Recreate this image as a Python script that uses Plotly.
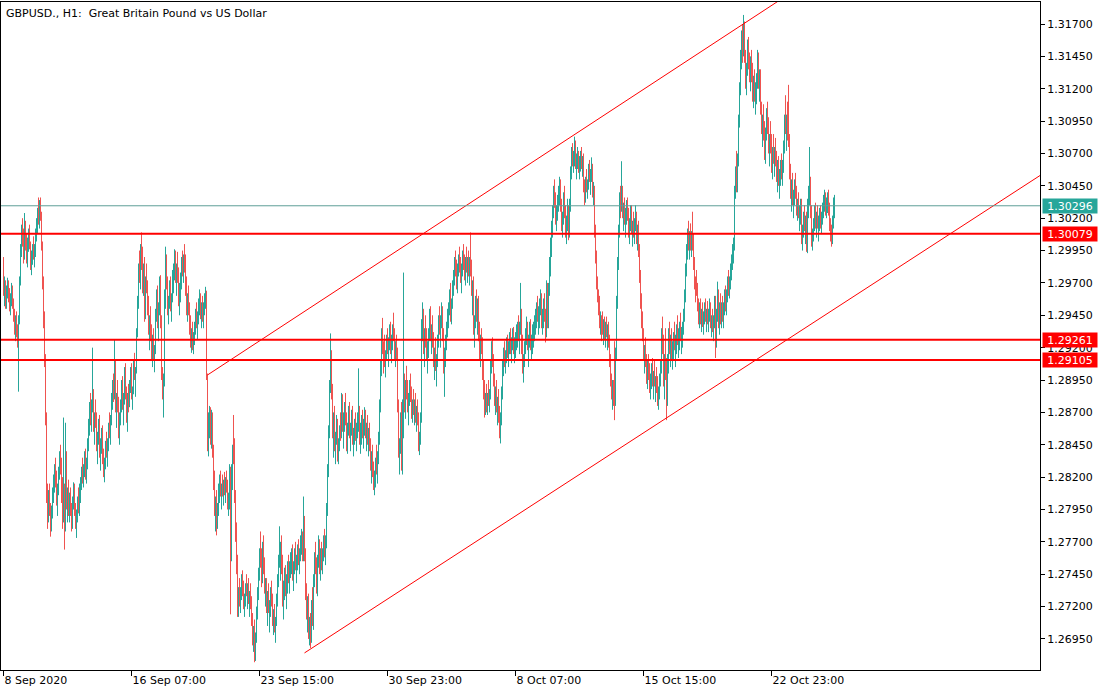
import plotly.graph_objects as go

TITLE = "GBPUSD., H1:  Great Britain Pound vs US Dollar"

# Hourly bars (bar index 0 = 8 Sep 2020 23:00). Open of each bar = previous close.
FIRST_OPEN = 1.2985
HIGH = [
1.2990,1.2975,1.2972,1.2968,1.2974,1.2972,1.2966,1.2962,1.2970,1.2968,
1.2958,1.2950,1.2945,1.2948,1.2938,1.2945,1.2975,1.3000,1.3015,1.3020,
1.3012,1.3024,1.3018,1.3008,1.3005,1.3012,1.3015,1.3002,1.2995,1.3000,
1.3006,1.3000,1.3012,1.3020,1.3028,1.3036,1.3034,1.3036,1.3025,1.3002,
1.2975,1.2948,1.2915,1.2870,1.2815,1.2810,1.2815,1.2800,1.2798,1.2812,
1.2822,1.2830,1.2835,1.2825,1.2815,1.2828,1.2840,1.2845,1.2835,1.2820,
1.2866,1.2815,1.2862,1.2840,1.2812,1.2818,1.2808,1.2812,1.2800,1.2805,
1.2816,1.2815,1.2800,1.2795,1.2805,1.2812,1.2815,1.2820,1.2828,1.2835,
1.2830,1.2840,1.2842,1.2835,1.2850,1.2865,1.2878,1.2885,1.2880,1.2920,
1.2888,1.2870,1.2880,1.2870,1.2855,1.2865,1.2868,1.2850,1.2858,1.2860,
1.2842,1.2835,1.2848,1.2855,1.2850,1.2862,1.2870,1.2868,1.2885,1.2895,
1.2900,1.2926,1.2910,1.2885,1.2895,1.2882,1.2870,1.2880,1.2895,1.2898,
1.2885,1.2905,1.2908,1.2890,1.2885,1.2892,1.2895,1.2905,1.2908,1.2890,
1.2910,1.2916,1.2905,1.2935,1.2960,1.2985,1.2995,1.3000,1.3009,1.2998,
1.2985,1.2990,1.2975,1.2985,1.2972,1.2960,1.2945,1.2952,1.2938,1.2930,
1.2935,1.2922,1.2950,1.2965,1.2968,1.2955,1.2975,1.2976,1.2945,1.2905,
1.2900,1.2965,1.2998,1.2992,1.2975,1.2960,1.2972,1.2975,1.2962,1.2980,
1.2985,1.2996,1.2995,1.2985,1.2994,1.2982,1.2970,1.2978,1.2990,1.2995,
1.2992,1.3000,1.2992,1.2975,1.2962,1.2968,1.2955,1.2945,1.2935,1.2940,
1.2932,1.2940,1.2950,1.2955,1.2948,1.2958,1.2965,1.2962,1.2955,1.2960,
1.2955,1.2962,1.2967,1.2964,1.2900,1.2870,1.2875,1.2874,1.2872,1.2870,
1.2845,1.2825,1.2805,1.2810,1.2800,1.2815,1.2822,1.2825,1.2815,1.2822,
1.2818,1.2824,1.2820,1.2825,1.2818,1.2808,1.2830,1.2828,1.2830,1.2845,
1.2868,1.2850,1.2810,1.2785,1.2760,1.2735,1.2742,1.2735,1.2745,1.2748,
1.2740,1.2730,1.2738,1.2745,1.2738,1.2742,1.2732,1.2738,1.2728,1.2715,
1.2705,1.2710,1.2700,1.2720,1.2735,1.2750,1.2765,1.2778,1.2765,1.2770,
1.2775,1.2758,1.2742,1.2742,1.2732,1.2738,1.2725,1.2735,1.2740,1.2730,
1.2718,1.2722,1.2712,1.2730,1.2745,1.2760,1.2782,1.2770,1.2775,1.2760,
1.2740,1.2750,1.2752,1.2745,1.2755,1.2760,1.2755,1.2762,1.2765,1.2768,
1.2755,1.2765,1.2770,1.2760,1.2768,1.2772,1.2765,1.2775,1.2780,1.2778,
1.2805,1.2790,1.2765,1.2738,1.2728,1.2730,1.2712,1.2715,1.2725,1.2735,
1.2745,1.2762,1.2770,1.2758,1.2760,1.2775,1.2772,1.2765,1.2770,1.2765,
1.2775,1.2780,1.2775,1.2800,1.2830,1.2860,1.2895,1.2931,1.2918,1.2892,
1.2870,1.2875,1.2855,1.2868,1.2865,1.2850,1.2860,1.2870,1.2885,1.2884,
1.2870,1.2878,1.2885,1.2870,1.2862,1.2875,1.2878,1.2862,1.2872,1.2875,
1.2858,1.2865,1.2870,1.2862,1.2870,1.2904,1.2875,1.2862,1.2868,1.2872,
1.2865,1.2874,1.2872,1.2862,1.2868,1.2858,1.2862,1.2850,1.2840,1.2845,
1.2832,1.2825,1.2835,1.2845,1.2840,1.2855,1.2880,1.2910,1.2935,1.2943,
1.2925,1.2930,1.2918,1.2930,1.2935,1.2928,1.2938,1.2940,1.2930,1.2938,
1.2947,1.2935,1.2925,1.2930,1.2920,1.2880,1.2850,1.2870,1.2878,1.2880,
1.2978,1.2900,1.2895,1.2906,1.2895,1.2885,1.2895,1.2900,1.2890,1.2880,
1.2888,1.2880,1.2885,1.2875,1.2880,1.2870,1.2855,1.2870,1.2942,1.2955,
1.2950,1.2935,1.2945,1.2935,1.2925,1.2935,1.2950,1.2952,1.2938,1.2945,
1.2932,1.2920,1.2928,1.2915,1.2930,1.2945,1.2952,1.2945,1.2955,1.2952,
1.2935,1.2920,1.2930,1.2940,1.2950,1.2955,1.2965,1.2970,1.2958,1.2972,
1.2980,1.2990,1.2995,1.2988,1.2985,1.2992,1.2998,1.2990,1.2985,1.2995,
1.3000,1.2992,1.2990,1.2998,1.2990,1.2995,1.2990,1.3009,1.2988,1.2972,
1.2975,1.2945,1.2960,1.2965,1.2958,1.2960,1.2940,1.2930,1.2935,1.2928,
1.2910,1.2895,1.2885,1.2892,1.2885,1.2895,1.2888,1.2910,1.2925,1.2928,
1.2915,1.2900,1.2890,1.2895,1.2882,1.2888,1.2875,1.2870,1.2890,1.2910,
1.2920,1.2925,1.2918,1.2928,1.2930,1.2925,1.2932,1.2935,1.2928,1.2935,
1.2936,1.2928,1.2932,1.2938,1.2940,1.2945,1.2940,1.2970,1.2950,1.2930,
1.2915,1.2925,1.2935,1.2944,1.2940,1.2930,1.2940,1.2942,1.2930,1.2938,
1.2940,1.2945,1.2950,1.2955,1.2960,1.2952,1.2958,1.2965,1.2962,1.2950,
1.2958,1.2962,1.2950,1.2972,1.2970,1.2970,1.2990,1.3005,1.3018,1.3030,
1.3045,1.3050,1.3040,1.3030,1.3038,1.3045,1.3052,1.3050,1.3035,1.3025,
1.3040,1.3045,1.3030,1.3022,1.3035,1.3030,1.3035,1.3060,1.3075,1.3078,
1.3072,1.3083,1.3080,1.3070,1.3075,1.3072,1.3068,1.3072,1.3075,1.3068,
1.3070,1.3050,1.3052,1.3058,1.3050,1.3062,1.3065,1.3058,1.3067,1.3062,
1.3048,1.3045,1.3015,1.2995,1.2975,1.2965,1.2960,1.2948,1.2945,1.2948,
1.2942,1.2944,1.2940,1.2944,1.2938,1.2940,1.2930,1.2915,1.2900,1.2895,
1.2895,1.2925,1.2920,1.2960,1.2990,1.3015,1.3040,1.3045,1.3064,1.3045,
1.3032,1.3036,1.3028,1.3034,1.3036,1.3028,1.3020,1.3030,1.3030,1.3018,
1.3025,1.3020,1.3030,1.3025,1.3015,1.3018,1.3000,1.2980,1.2962,1.2948,
1.2935,1.2922,1.2928,1.2915,1.2910,1.2915,1.2908,1.2900,1.2908,1.2912,
1.2902,1.2910,1.2898,1.2905,1.2898,1.2890,1.2900,1.2910,1.2935,1.2944,
1.2930,1.2915,1.2935,1.2912,1.2915,1.2935,1.2940,1.2930,1.2935,1.2925,
1.2932,1.2940,1.2930,1.2938,1.2945,1.2935,1.2940,1.2947,1.2936,1.2940,
1.2950,1.2965,1.2985,1.3000,1.3012,1.3018,1.3010,1.3016,1.3010,1.3025,
1.3008,1.2990,1.2975,1.2980,1.2970,1.2958,1.2955,1.2958,1.2950,1.2955,
1.2948,1.2955,1.2958,1.2950,1.2956,1.2950,1.2958,1.2955,1.2945,1.2950,
1.2945,1.2960,1.2960,1.2950,1.2971,1.2965,1.2955,1.2962,1.2955,1.2960,
1.2955,1.2965,1.2968,1.2965,1.2975,1.2980,1.2975,1.2985,1.2992,1.3000,
1.3005,1.3045,1.3060,1.3072,1.3070,1.3100,1.3125,1.3150,1.3165,1.3170,
1.3177,1.3172,1.3150,1.3140,1.3158,1.3160,1.3148,1.3145,1.3150,1.3140,
1.3130,1.3135,1.3125,1.3132,1.3150,1.3148,1.3135,1.3135,1.3110,1.3100,
1.3108,1.3095,1.3090,1.3105,1.3110,1.3098,1.3085,1.3095,1.3085,1.3075,
1.3085,1.3075,1.3082,1.3072,1.3065,1.3068,1.3058,1.3065,1.3070,1.3065,
1.3080,1.3100,1.3115,1.3100,1.3110,1.3123,1.3085,1.3062,1.3050,1.3055,
1.3042,1.3050,1.3055,1.3045,1.3035,1.3040,1.3030,1.3035,1.3035,1.3015,
1.3025,1.3030,1.3022,1.3025,1.3035,1.3045,1.3075,1.3052,1.3030,1.3012,
1.3020,1.3030,1.3032,1.3025,1.3030,1.3022,1.3028,1.3030,1.3025,1.3032,
1.3038,1.3042,1.3040,1.3036,1.3040,1.3042,1.3032,1.3020,1.3015,1.3022,
1.3036,1.3038,
]
LOW = [
1.2960,1.2952,1.2950,1.2950,1.2958,1.2955,1.2948,1.2945,1.2952,1.2950,
1.2940,1.2930,1.2925,1.2928,1.2920,1.2886,1.2938,1.2968,1.2990,1.2998,
1.2985,1.2988,1.2995,1.2985,1.2982,1.2994,1.2996,1.2980,1.2976,1.2984,
1.2988,1.2982,1.2990,1.3002,1.3008,1.3015,1.3012,1.3018,1.2995,1.2965,
1.2935,1.2905,1.2860,1.2800,1.2780,1.2785,1.2790,1.2774,1.2778,1.2788,
1.2800,1.2808,1.2812,1.2798,1.2790,1.2806,1.2818,1.2822,1.2800,1.2780,
1.2785,1.2764,1.2778,1.2795,1.2785,1.2790,1.2785,1.2790,1.2778,1.2780,
1.2795,1.2790,1.2780,1.2773,1.2785,1.2792,1.2790,1.2800,1.2810,1.2815,
1.2812,1.2820,1.2818,1.2815,1.2826,1.2840,1.2852,1.2860,1.2855,1.2870,
1.2855,1.2845,1.2858,1.2840,1.2830,1.2845,1.2835,1.2825,1.2838,1.2830,
1.2820,1.2816,1.2826,1.2835,1.2828,1.2840,1.2850,1.2845,1.2860,1.2872,
1.2878,1.2880,1.2870,1.2858,1.2870,1.2850,1.2845,1.2860,1.2870,1.2872,
1.2860,1.2876,1.2880,1.2862,1.2855,1.2870,1.2875,1.2885,1.2880,1.2872,
1.2884,1.2895,1.2882,1.2900,1.2928,1.2950,1.2970,1.2965,1.2980,1.2962,
1.2960,1.2940,1.2942,1.2962,1.2945,1.2930,1.2918,1.2925,1.2910,1.2905,
1.2910,1.2901,1.2915,1.2940,1.2935,1.2925,1.2945,1.2935,1.2895,1.2880,
1.2866,1.2890,1.2950,1.2965,1.2945,1.2938,1.2950,1.2948,1.2940,1.2955,
1.2962,1.2972,1.2970,1.2960,1.2970,1.2952,1.2945,1.2955,1.2965,1.2975,
1.2970,1.2978,1.2960,1.2945,1.2940,1.2945,1.2930,1.2920,1.2916,1.2918,
1.2915,1.2922,1.2930,1.2935,1.2926,1.2938,1.2945,1.2942,1.2935,1.2940,
1.2935,1.2945,1.2950,1.2895,1.2840,1.2836,1.2850,1.2845,1.2842,1.2835,
1.2810,1.2790,1.2778,1.2775,1.2780,1.2790,1.2800,1.2805,1.2795,1.2805,
1.2798,1.2806,1.2800,1.2808,1.2795,1.2790,1.2795,1.2714,1.2755,1.2810,
1.2830,1.2800,1.2770,1.2745,1.2712,1.2712,1.2720,1.2715,1.2725,1.2728,
1.2718,1.2712,1.2720,1.2728,1.2718,1.2722,1.2712,1.2718,1.2705,1.2690,
1.2685,1.2677,1.2678,1.2692,1.2710,1.2725,1.2740,1.2750,1.2735,1.2738,
1.2745,1.2730,1.2720,1.2715,1.2705,1.2715,1.2700,1.2712,1.2720,1.2705,
1.2698,1.2700,1.2692,1.2705,1.2720,1.2735,1.2750,1.2740,1.2745,1.2720,
1.2710,1.2725,1.2728,1.2718,1.2730,1.2738,1.2730,1.2742,1.2745,1.2740,
1.2732,1.2745,1.2748,1.2738,1.2748,1.2752,1.2745,1.2755,1.2760,1.2755,
1.2755,1.2755,1.2725,1.2710,1.2700,1.2695,1.2690,1.2688,1.2692,1.2705,
1.2702,1.2735,1.2745,1.2730,1.2728,1.2750,1.2745,1.2740,1.2748,1.2745,
1.2755,1.2758,1.2752,1.2765,1.2790,1.2820,1.2850,1.2885,1.2880,1.2850,
1.2835,1.2840,1.2830,1.2845,1.2832,1.2830,1.2840,1.2848,1.2850,1.2855,
1.2842,1.2855,1.2860,1.2840,1.2838,1.2852,1.2850,1.2840,1.2852,1.2845,
1.2836,1.2845,1.2848,1.2840,1.2850,1.2855,1.2845,1.2838,1.2845,1.2850,
1.2842,1.2852,1.2850,1.2840,1.2845,1.2836,1.2840,1.2825,1.2815,1.2820,
1.2810,1.2806,1.2812,1.2822,1.2815,1.2830,1.2845,1.2870,1.2898,1.2915,
1.2900,1.2905,1.2897,1.2910,1.2915,1.2905,1.2918,1.2915,1.2908,1.2918,
1.2925,1.2910,1.2905,1.2910,1.2870,1.2835,1.2822,1.2838,1.2825,1.2822,
1.2850,1.2870,1.2865,1.2880,1.2870,1.2860,1.2875,1.2878,1.2865,1.2862,
1.2868,1.2860,1.2862,1.2855,1.2860,1.2840,1.2837,1.2845,1.2862,1.2925,
1.2915,1.2905,1.2920,1.2910,1.2900,1.2912,1.2925,1.2925,1.2915,1.2920,
1.2905,1.2895,1.2902,1.2890,1.2905,1.2920,1.2930,1.2920,1.2935,1.2925,
1.2900,1.2882,1.2905,1.2918,1.2928,1.2935,1.2945,1.2940,1.2938,1.2950,
1.2960,1.2968,1.2975,1.2965,1.2962,1.2975,1.2978,1.2970,1.2962,1.2975,
1.2980,1.2972,1.2968,1.2978,1.2970,1.2975,1.2968,1.2975,1.2960,1.2945,
1.2930,1.2920,1.2935,1.2940,1.2930,1.2925,1.2910,1.2905,1.2915,1.2895,
1.2880,1.2866,1.2868,1.2870,1.2868,1.2875,1.2870,1.2880,1.2900,1.2905,
1.2890,1.2875,1.2868,1.2870,1.2860,1.2862,1.2850,1.2846,1.2860,1.2880,
1.2898,1.2905,1.2900,1.2908,1.2912,1.2905,1.2915,1.2915,1.2908,1.2918,
1.2915,1.2908,1.2912,1.2918,1.2920,1.2925,1.2915,1.2930,1.2915,1.2900,
1.2893,1.2905,1.2915,1.2922,1.2918,1.2905,1.2920,1.2918,1.2910,1.2915,
1.2920,1.2925,1.2930,1.2935,1.2940,1.2930,1.2935,1.2945,1.2935,1.2930,
1.2935,1.2940,1.2924,1.2928,1.2935,1.2935,1.2960,1.2975,1.2990,1.3005,
1.3020,1.3028,1.3015,1.3010,1.3018,1.3025,1.3030,1.3025,1.3010,1.3005,
1.3015,1.3020,1.3005,1.3000,1.3010,1.3003,1.3005,1.3025,1.3050,1.3060,
1.3055,1.3060,1.3058,1.3050,1.3058,1.3055,1.3050,1.3056,1.3058,1.3052,
1.3040,1.3030,1.3032,1.3040,1.3035,1.3042,1.3048,1.3038,1.3048,1.3036,
1.3030,1.3005,1.2985,1.2965,1.2955,1.2945,1.2935,1.2930,1.2925,1.2930,
1.2922,1.2926,1.2920,1.2928,1.2918,1.2920,1.2905,1.2890,1.2880,1.2872,
1.2875,1.2864,1.2875,1.2910,1.2950,1.2980,1.3005,1.3020,1.3025,1.3020,
1.3010,1.3015,1.3005,1.3015,1.3018,1.3005,1.3000,1.3010,1.3008,1.2998,
1.3005,1.3000,1.3010,1.3000,1.2995,1.2990,1.2970,1.2950,1.2935,1.2925,
1.2910,1.2900,1.2905,1.2892,1.2888,1.2895,1.2885,1.2880,1.2888,1.2890,
1.2880,1.2890,1.2878,1.2885,1.2875,1.2872,1.2880,1.2890,1.2900,1.2915,
1.2890,1.2880,1.2895,1.2864,1.2875,1.2900,1.2915,1.2905,1.2910,1.2903,
1.2910,1.2918,1.2905,1.2915,1.2922,1.2912,1.2918,1.2925,1.2915,1.2920,
1.2930,1.2940,1.2955,1.2975,1.2988,1.2995,1.2988,1.2995,1.2990,1.2995,
1.2980,1.2965,1.2955,1.2960,1.2948,1.2938,1.2935,1.2938,1.2932,1.2936,
1.2930,1.2938,1.2940,1.2932,1.2938,1.2932,1.2940,1.2935,1.2928,1.2932,
1.2925,1.2935,1.2912,1.2920,1.2940,1.2935,1.2930,1.2938,1.2935,1.2940,
1.2935,1.2945,1.2948,1.2945,1.2955,1.2960,1.2958,1.2965,1.2972,1.2980,
1.2985,1.2995,1.3035,1.3040,1.3040,1.3060,1.3090,1.3115,1.3135,1.3140,
1.3145,1.3140,1.3120,1.3115,1.3130,1.3135,1.3125,1.3118,1.3125,1.3110,
1.3105,1.3110,1.3100,1.3108,1.3120,1.3120,1.3110,1.3100,1.3085,1.3075,
1.3080,1.3065,1.3062,1.3080,1.3085,1.3070,1.3060,1.3070,1.3055,1.3050,
1.3062,1.3052,1.3060,1.3048,1.3040,1.3045,1.3035,1.3045,1.3050,1.3045,
1.3055,1.3070,1.3085,1.3072,1.3080,1.3075,1.3050,1.3035,1.3025,1.3030,
1.3020,1.3030,1.3035,1.3022,1.3018,1.3020,1.3010,1.3015,1.3000,1.2995,
1.3005,1.3010,1.3000,1.2994,1.2993,1.3020,1.3030,1.3020,1.2998,1.2995,
1.3002,1.3010,1.3012,1.3005,1.3012,1.3002,1.3010,1.3012,1.3008,1.3015,
1.3020,1.3025,1.3022,1.3020,1.3024,1.3022,1.3010,1.3002,1.2998,1.3000,
1.3012,1.3020,
]
CLOSE = [
1.2965,1.2970,1.2955,1.2962,1.2970,1.2958,1.2952,1.2958,1.2965,1.2954,
1.2945,1.2935,1.2940,1.2932,1.2928,1.2940,1.2970,1.2995,1.3010,1.3004,
1.2990,1.3015,1.3000,1.2990,1.3000,1.3008,1.2998,1.2985,1.2990,1.2996,
1.2992,1.2995,1.3008,1.3016,1.3024,1.3020,1.3030,1.3022,1.3000,1.2970,
1.2940,1.2912,1.2865,1.2810,1.2790,1.2805,1.2796,1.2782,1.2792,1.2808,
1.2815,1.2825,1.2818,1.2805,1.2810,1.2822,1.2835,1.2828,1.2806,1.2788,
1.2812,1.2780,1.2835,1.2800,1.2805,1.2795,1.2802,1.2794,1.2785,1.2800,
1.2810,1.2795,1.2785,1.2790,1.2800,1.2795,1.2810,1.2816,1.2825,1.2820,
1.2826,1.2835,1.2822,1.2830,1.2845,1.2860,1.2870,1.2864,1.2875,1.2880,
1.2860,1.2866,1.2862,1.2846,1.2850,1.2860,1.2840,1.2845,1.2852,1.2834,
1.2828,1.2830,1.2842,1.2838,1.2846,1.2858,1.2855,1.2865,1.2880,1.2890,
1.2884,1.2905,1.2875,1.2880,1.2875,1.2856,1.2866,1.2875,1.2890,1.2878,
1.2882,1.2900,1.2885,1.2868,1.2880,1.2874,1.2890,1.2900,1.2884,1.2886,
1.2905,1.2898,1.2902,1.2930,1.2955,1.2980,1.2975,1.2992,1.2990,1.2968,
1.2980,1.2945,1.2970,1.2966,1.2950,1.2935,1.2940,1.2930,1.2915,1.2925,
1.2914,1.2918,1.2945,1.2960,1.2942,1.2950,1.2970,1.2940,1.2900,1.2885,
1.2895,1.2958,1.2990,1.2970,1.2950,1.2955,1.2968,1.2952,1.2958,1.2975,
1.2980,1.2990,1.2975,1.2982,1.2978,1.2958,1.2966,1.2972,1.2985,1.2980,
1.2988,1.2984,1.2965,1.2950,1.2955,1.2948,1.2935,1.2925,1.2930,1.2922,
1.2928,1.2936,1.2945,1.2940,1.2944,1.2952,1.2960,1.2946,1.2950,1.2944,
1.2952,1.2958,1.2962,1.2898,1.2845,1.2860,1.2870,1.2850,1.2868,1.2840,
1.2815,1.2795,1.2800,1.2782,1.2795,1.2810,1.2818,1.2810,1.2812,1.2808,
1.2815,1.2812,1.2818,1.2814,1.2800,1.2805,1.2825,1.2760,1.2820,1.2840,
1.2835,1.2805,1.2778,1.2750,1.2720,1.2730,1.2725,1.2732,1.2740,1.2732,
1.2722,1.2728,1.2735,1.2730,1.2735,1.2726,1.2730,1.2722,1.2710,1.2695,
1.2700,1.2685,1.2695,1.2715,1.2730,1.2745,1.2760,1.2755,1.2740,1.2765,
1.2750,1.2735,1.2738,1.2720,1.2728,1.2718,1.2722,1.2730,1.2725,1.2710,
1.2712,1.2705,1.2708,1.2725,1.2740,1.2755,1.2760,1.2765,1.2750,1.2725,
1.2735,1.2745,1.2732,1.2740,1.2748,1.2742,1.2750,1.2755,1.2760,1.2745,
1.2750,1.2760,1.2752,1.2755,1.2762,1.2758,1.2762,1.2770,1.2775,1.2760,
1.2780,1.2760,1.2730,1.2715,1.2722,1.2700,1.2705,1.2695,1.2720,1.2710,
1.2740,1.2755,1.2750,1.2735,1.2755,1.2768,1.2750,1.2760,1.2755,1.2762,
1.2770,1.2764,1.2772,1.2795,1.2825,1.2855,1.2890,1.2915,1.2885,1.2855,
1.2862,1.2845,1.2850,1.2860,1.2838,1.2845,1.2855,1.2852,1.2880,1.2860,
1.2865,1.2872,1.2865,1.2848,1.2858,1.2870,1.2855,1.2860,1.2868,1.2850,
1.2855,1.2862,1.2852,1.2858,1.2865,1.2870,1.2850,1.2858,1.2862,1.2856,
1.2860,1.2868,1.2855,1.2858,1.2850,1.2854,1.2845,1.2830,1.2835,1.2825,
1.2815,1.2820,1.2830,1.2826,1.2835,1.2850,1.2875,1.2905,1.2928,1.2920,
1.2918,1.2910,1.2915,1.2925,1.2920,1.2924,1.2932,1.2922,1.2926,1.2935,
1.2930,1.2915,1.2920,1.2918,1.2875,1.2840,1.2845,1.2865,1.2830,1.2875,
1.2890,1.2880,1.2890,1.2885,1.2875,1.2880,1.2890,1.2884,1.2870,1.2876,
1.2872,1.2875,1.2866,1.2870,1.2865,1.2845,1.2850,1.2865,1.2935,1.2945,
1.2920,1.2930,1.2925,1.2915,1.2920,1.2930,1.2945,1.2930,1.2935,1.2925,
1.2910,1.2915,1.2906,1.2912,1.2925,1.2940,1.2935,1.2942,1.2950,1.2930,
1.2905,1.2915,1.2925,1.2935,1.2945,1.2952,1.2960,1.2945,1.2955,1.2968,
1.2975,1.2985,1.2980,1.2970,1.2982,1.2988,1.2984,1.2975,1.2980,1.2990,
1.2985,1.2978,1.2986,1.2982,1.2988,1.2980,1.2985,1.2980,1.2965,1.2968,
1.2935,1.2940,1.2955,1.2945,1.2952,1.2930,1.2915,1.2925,1.2920,1.2900,
1.2885,1.2872,1.2880,1.2875,1.2882,1.2878,1.2885,1.2905,1.2918,1.2910,
1.2895,1.2880,1.2885,1.2875,1.2878,1.2866,1.2860,1.2865,1.2885,1.2905,
1.2915,1.2910,1.2915,1.2922,1.2918,1.2922,1.2928,1.2920,1.2925,1.2930,
1.2920,1.2924,1.2928,1.2932,1.2935,1.2930,1.2938,1.2945,1.2920,1.2905,
1.2910,1.2920,1.2930,1.2935,1.2925,1.2928,1.2935,1.2922,1.2926,1.2932,
1.2936,1.2940,1.2945,1.2950,1.2945,1.2948,1.2955,1.2960,1.2940,1.2946,
1.2952,1.2945,1.2930,1.2965,1.2940,1.2965,1.2985,1.3000,1.3010,1.3025,
1.3040,1.3035,1.3020,1.3028,1.3032,1.3040,1.3048,1.3030,1.3015,1.3020,
1.3035,1.3025,1.3010,1.3018,1.3030,1.3008,1.3030,1.3055,1.3070,1.3065,
1.3068,1.3075,1.3062,1.3066,1.3070,1.3060,1.3064,1.3068,1.3062,1.3065,
1.3045,1.3035,1.3048,1.3044,1.3046,1.3058,1.3052,1.3055,1.3060,1.3040,
1.3042,1.3010,1.2990,1.2970,1.2960,1.2958,1.2940,1.2944,1.2940,1.2935,
1.2938,1.2930,1.2936,1.2932,1.2934,1.2925,1.2910,1.2895,1.2885,1.2890,
1.2880,1.2878,1.2915,1.2955,1.2985,1.3010,1.3035,1.3028,1.3040,1.3025,
1.3028,1.3020,1.3024,1.3030,1.3022,1.3010,1.3016,1.3025,1.3012,1.3015,
1.3010,1.3018,1.3022,1.3005,1.3012,1.2995,1.2975,1.2955,1.2940,1.2930,
1.2915,1.2918,1.2910,1.2898,1.2905,1.2900,1.2890,1.2895,1.2904,1.2895,
1.2898,1.2892,1.2894,1.2890,1.2880,1.2886,1.2896,1.2905,1.2930,1.2920,
1.2895,1.2910,1.2900,1.2880,1.2910,1.2930,1.2920,1.2925,1.2915,1.2920,
1.2928,1.2922,1.2926,1.2932,1.2928,1.2930,1.2935,1.2930,1.2932,1.2938,
1.2945,1.2960,1.2980,1.2995,1.3005,1.3000,1.3008,1.3002,1.3006,1.3000,
1.2985,1.2970,1.2968,1.2964,1.2952,1.2945,1.2950,1.2942,1.2946,1.2940,
1.2944,1.2950,1.2945,1.2948,1.2942,1.2946,1.2952,1.2940,1.2942,1.2938,
1.2940,1.2955,1.2925,1.2945,1.2950,1.2940,1.2950,1.2945,1.2950,1.2945,
1.2952,1.2960,1.2955,1.2962,1.2970,1.2965,1.2972,1.2980,1.2988,1.2995,
1.3000,1.3040,1.3055,1.3045,1.3065,1.3095,1.3120,1.3145,1.3158,1.3150,
1.3168,1.3145,1.3125,1.3135,1.3150,1.3140,1.3130,1.3140,1.3132,1.3115,
1.3125,1.3115,1.3120,1.3128,1.3145,1.3125,1.3130,1.3105,1.3090,1.3095,
1.3085,1.3070,1.3085,1.3100,1.3090,1.3075,1.3080,1.3078,1.3060,1.3070,
1.3068,1.3072,1.3065,1.3055,1.3060,1.3050,1.3052,1.3062,1.3055,1.3060,
1.3075,1.3095,1.3090,1.3095,1.3085,1.3080,1.3055,1.3040,1.3045,1.3035,
1.3038,1.3046,1.3040,1.3030,1.3032,1.3025,1.3026,1.3030,1.3005,1.3010,
1.3020,1.3015,1.3018,1.3000,1.3030,1.3040,1.3050,1.3025,1.3005,1.3008,
1.3015,1.3025,1.3018,1.3022,1.3016,1.3020,1.3024,1.3018,1.3022,1.3028,
1.3034,1.3038,1.3030,1.3032,1.3036,1.3028,1.3015,1.3008,1.3005,1.3018,
1.3024,1.30296,
]

X_TICK_BARS = [0, 128, 256, 384, 512, 640, 768]
X_TICK_LABELS = ["8 Sep 2020", "16 Sep 07:00", "23 Sep 15:00", "30 Sep 23:00",
                 "8 Oct 07:00", "15 Oct 15:00", "22 Oct 23:00"]
Y_TICKS = [1.26950, 1.27200, 1.27450, 1.27700, 1.27950, 1.28200, 1.28450, 1.28700,
           1.28950, 1.29200, 1.29450, 1.29700, 1.29950, 1.30200, 1.30450, 1.30700,
           1.30950, 1.31200, 1.31450, 1.31700]
LEVELS = [1.30079, 1.29261, 1.29105]
BID = 1.30296
# Channel trend lines: (bar index, price) anchor pairs, drawn as rays to the right
UPPER_LINE = [(204, 1.28989), (571, 1.30846)]
LOWER_LINE = [(301, 1.26842), (663, 1.28657)]

X_RANGE = [-2.5, 1036.5]
Y_RANGE = [1.26710, 1.31870]

UP = "#26a69a"
DOWN = "#ef5350"
LINE_RED = "#ff0000"
FONT = "DejaVu Sans"

n = min(len(HIGH), len(LOW), len(CLOSE))
close = CLOSE[:n]
opens = ([FIRST_OPEN] + CLOSE[:n - 1])[:n]
high = [max(h, o, c) for h, o, c in zip(HIGH[:n], opens, close)]
low = [min(l, o, c) for l, o, c in zip(LOW[:n], opens, close)]

# At one pixel per hour each candle (body + wicks) is a 1px vertical stroke.
seg = {True: ([], []), False: ([], [])}
for i in range(n):
    sx, sy = seg[close[i] >= opens[i]]
    sx += [i, i, None]
    sy += [low[i], high[i], None]

fig = go.Figure()
for is_up, colr in ((True, UP), (False, DOWN)):
    sx, sy = seg[is_up]
    fig.add_trace(go.Scatter(x=sx, y=sy, mode="lines",
                             line=dict(color=colr, width=1),
                             hoverinfo="skip", showlegend=False))


def ray(anchors):
    (x0, y0), (x1, y1) = anchors
    slope = (y1 - y0) / (x1 - x0)
    xe = X_RANGE[1]
    return [x0, xe], [y0, y0 + slope * (xe - x0)]


for anchors in (UPPER_LINE, LOWER_LINE):
    rx, ry = ray(anchors)
    fig.add_trace(go.Scatter(x=rx, y=ry, mode="lines",
                             line=dict(color=LINE_RED, width=1),
                             hoverinfo="skip", showlegend=False))

shapes = []
for lv in LEVELS:
    shapes.append(dict(type="line", xref="paper", x0=0, x1=1, yref="y", y0=lv, y1=lv,
                       line=dict(color=LINE_RED, width=2), layer="above"))
shapes.append(dict(type="line", xref="paper", x0=0, x1=1, yref="y", y0=BID, y1=BID,
                   line=dict(color="#5f9e98", width=1), layer="above"))

annotations = [dict(text=TITLE, xref="paper", yref="paper", x=0, y=1,
                    xanchor="left", yanchor="top", xshift=3, yshift=-3,
                    showarrow=False, font=dict(family=FONT, size=11, color="black"))]
for lv in LEVELS:
    annotations.append(dict(text=f"{lv:.5f}", xref="paper", yref="y", x=1, y=lv,
                            xanchor="left", yanchor="middle", xshift=2,
                            showarrow=False, bgcolor=LINE_RED, width=52, height=12,
                            borderpad=1, font=dict(family=FONT, size=11, color="white")))
annotations.append(dict(text=f"{BID:.5f}", xref="paper", yref="y", x=1, y=BID,
                        xanchor="left", yanchor="middle", xshift=2,
                        showarrow=False, bgcolor=UP, width=52, height=12,
                        borderpad=1, font=dict(family=FONT, size=11, color="white")))

fig.update_layout(
    width=1110, height=694,
    margin=dict(l=1, r=70, t=2, b=24),
    paper_bgcolor="white", plot_bgcolor="white",
    shapes=shapes, annotations=annotations,
    font=dict(family=FONT, size=11, color="black"),
    xaxis=dict(range=X_RANGE, showgrid=False,
               zeroline=False, showline=True, mirror=True, linecolor="black",
               linewidth=1, ticks="outside", ticklen=5, tickcolor="black",
               tickvals=X_TICK_BARS, ticktext=X_TICK_LABELS,
               ticklabelposition="outside right",
               tickfont=dict(family=FONT, size=11, color="black")),
    yaxis=dict(range=Y_RANGE, side="right", showgrid=False, zeroline=False,
               showline=True, mirror=True, linecolor="black", linewidth=1,
               ticks="outside", ticklen=4, tickcolor="black",
               tickvals=Y_TICKS, ticktext=[f"{v:.5f}" for v in Y_TICKS],
               tickfont=dict(family=FONT, size=11, color="black")),
)

fig.write_html("out.html",
               config={"displayModeBar": False},
               post_script="document.body.style.margin='0px';document.body.style.padding='0px';")
